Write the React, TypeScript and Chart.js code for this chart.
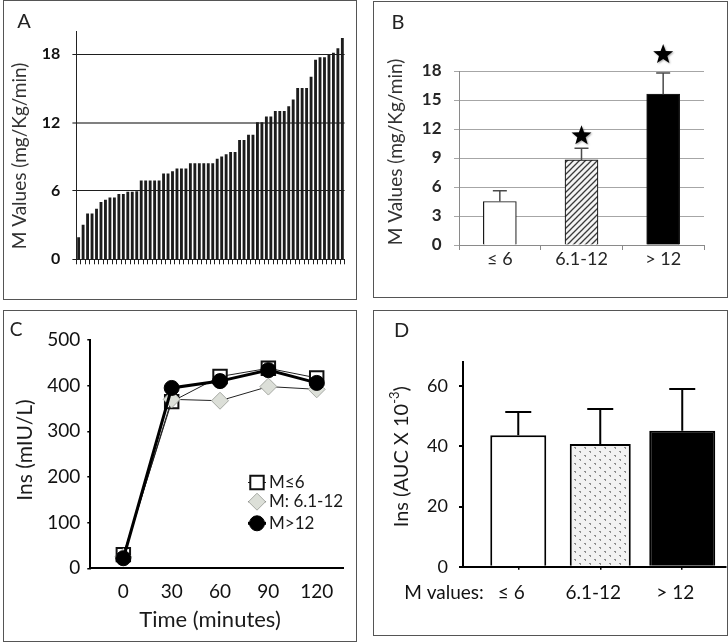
import React, { useEffect, useRef } from 'react';
import { Chart, registerables } from 'chart.js';

Chart.register(...registerables);
Chart.defaults.font.family = 'Lato';

// ---------------- Panel A data ----------------
const aValues = [
  1.9, 3.0, 4.0, 4.0, 4.4, 5.0, 5.2, 5.4, 5.4, 5.7,
  5.7, 5.9, 5.9, 5.95, 6.9, 6.9, 6.9, 6.9, 6.9, 7.5,
  7.5, 7.7, 7.95, 7.95, 7.95, 8.4, 8.4, 8.4, 8.4, 8.4,
  8.4, 8.8, 9.0, 9.2, 9.4, 9.4, 10.45, 10.45, 10.9, 10.9,
  12.0, 12.0, 12.5, 12.5, 13.0, 13.0, 13.0, 13.4, 14.0, 15.0,
  15.0, 15.0, 16.0, 17.5, 17.7, 17.7, 17.9, 18.1, 18.5, 19.4,
];
const aTicks = [0, 6, 12, 18];
const aTitle = 'M Values (mg/Kg/min)';

// ---------------- Panel B data ----------------
const bCategories = ['≤ 6', '6.1-12', '> 12'];
const bMeans = [4.5, 8.8, 15.6];
const bErrTop = [5.6, 10.0, 17.8];
const bStars = [null, 11.4, 19.8];
const bTicks = [0, 3, 6, 9, 12, 15, 18];
const bTitle = 'M Values (mg/Kg/min)';

// ---------------- Panel C data ----------------
const cTimes = [0, 30, 60, 90, 120];
const cLow = [30, 365, 420, 438, 417];
const cMid = [25, 370, 367, 398, 392];
const cHigh = [22, 395, 410, 434, 406];
const cSeries = ['M≤6', 'M: 6.1-12', 'M>12'];
const cTicksY = [0, 100, 200, 300, 400, 500];

// ---------------- Panel D data ----------------
const dCategories = ['≤ 6', '6.1-12', '> 12'];
const dMeans = [43.7, 40.8, 45.2];
const dErrTop = [51.5, 52.5, 59.1];
const dTicks = [0, 20, 40, 60];

// ---------------- helpers ----------------
const base: any = {
  animation: false,
  responsive: false,
  maintainAspectRatio: false,
  devicePixelRatio: 1,
  events: [],
};
const noPlugins = { legend: { display: false }, tooltip: { enabled: false } };

function drawText(ctx: any, t: string, x: number, y: number, font: string, color: string, rot = false, align: CanvasTextAlign = 'center') {
  ctx.save();
  ctx.font = font;
  ctx.fillStyle = color;
  ctx.textAlign = align;
  ctx.textBaseline = 'middle';
  ctx.translate(x, y);
  if (rot) ctx.rotate(-Math.PI / 2);
  ctx.fillText(t, 0, 0);
  ctx.restore();
}

function drawErr(ctx: any, x: number, yTop: number, yErr: number, color: string, lw: number, cap: number) {
  ctx.save();
  ctx.strokeStyle = color;
  ctx.lineWidth = lw;
  ctx.beginPath();
  ctx.moveTo(x, yTop);
  ctx.lineTo(x, yErr);
  ctx.moveTo(x - cap / 2, yErr);
  ctx.lineTo(x + cap / 2, yErr);
  ctx.stroke();
  ctx.restore();
}

function drawStar(ctx: any, cx: number, cy: number, R: number) {
  const r = R * 0.42;
  ctx.save();
  ctx.beginPath();
  for (let i = 0; i < 10; i++) {
    const ang = -Math.PI / 2 + (i * Math.PI) / 5;
    const rad = i % 2 === 0 ? R : r;
    ctx.lineTo(cx + rad * Math.cos(ang), cy + rad * Math.sin(ang));
  }
  ctx.closePath();
  ctx.shadowColor = 'rgba(0,0,0,0.35)';
  ctx.shadowBlur = 2;
  ctx.shadowOffsetX = 1;
  ctx.shadowOffsetY = 1;
  ctx.fillStyle = '#000';
  ctx.fill();
  ctx.restore();
}

function makeHatch() {
  const c = document.createElement('canvas');
  c.width = 6;
  c.height = 6;
  const g = c.getContext('2d') as CanvasRenderingContext2D;
  g.fillStyle = '#f4f4f4';
  g.fillRect(0, 0, 6, 6);
  g.strokeStyle = '#3a3a3a';
  g.lineWidth = 1.3;
  g.beginPath();
  g.moveTo(-1, 7); g.lineTo(7, -1);
  g.moveTo(-4, 4); g.lineTo(4, -4);
  g.moveTo(2, 10); g.lineTo(10, 2);
  g.stroke();
  return g.createPattern(c, 'repeat');
}

function makeStipple() {
  const c = document.createElement('canvas');
  c.width = 10;
  c.height = 8;
  const g = c.getContext('2d') as CanvasRenderingContext2D;
  g.fillStyle = '#f2f2f2';
  g.fillRect(0, 0, 10, 8);
  g.fillStyle = '#8c8c8c';
  g.fillRect(1, 1, 2, 1);
  g.fillRect(2, 2, 1, 1);
  g.fillRect(6, 5, 2, 1);
  g.fillRect(7, 6, 1, 1);
  return g.createPattern(c, 'repeat');
}

// ---------------- configs ----------------
function configA(): any {
  return {
    type: 'bar',
    data: {
      labels: aValues.map((_, i) => String(i + 1)),
      datasets: [{ data: aValues, backgroundColor: '#1c1c1c', barThickness: 2.2 }],
    },
    options: {
      ...base,
      layout: { padding: { left: 0, right: 12.4, top: 31.5, bottom: 30.7 } },
      plugins: noPlugins,
      scales: {
        x: {
          offset: true,
          grid: { offset: true, drawOnChartArea: false, drawTicks: true, tickLength: 5, color: '#222', lineWidth: 1 },
          border: { display: true, color: '#222', width: 1 },
          ticks: { autoSkip: false, maxRotation: 0, padding: 0, callback: () => '' },
          afterFit: (s: any) => { s.height = 10; },
        },
        y: {
          min: 0,
          max: 20,
          afterBuildTicks: (s: any) => { s.ticks = aTicks.map((v) => ({ value: v })); },
          grid: {
            color: (c: any) => (c.tick && c.tick.value === 12 ? '#808080' : '#1e1e1e'),
            lineWidth: (c: any) => (c.tick && c.tick.value === 12 ? 2 : 1),
            tickLength: 4,
          },
          border: { display: true, color: '#222', width: 1 },
          ticks: { font: { size: 16, weight: 'bold', lineHeight: 1 }, color: '#111', padding: 12 },
          afterFit: (s: any) => { s.width = 73.4; },
        },
      },
    },
    plugins: [{
      id: 'aText',
      afterDraw(chart: any) {
        const ctx = chart.ctx;
        drawText(ctx, 'A', 21, 22, '20px Lato', '#222');
        drawText(ctx, aTitle, 17, 156, '19px Lato', '#333', true);
      },
    }],
  };
}

function configB(): any {
  return {
    type: 'bar',
    data: {
      labels: bCategories,
      datasets: [
        {
          data: bMeans,
          backgroundColor: ['#ffffff', makeHatch(), '#000000'],
          borderColor: '#1a1a1a',
          borderWidth: 1.2,
          barThickness: 33,
        },
      ],
    },
    options: {
      ...base,
      layout: { padding: { left: 0, right: 24, top: 70, bottom: 23 } },
      plugins: noPlugins,
      scales: {
        x: {
          offset: true,
          grid: { offset: true, drawOnChartArea: false, drawTicks: true, tickLength: 5, color: '#8a8a8a', lineWidth: 1 },
          border: { display: true, color: '#8a8a8a', width: 1 },
          ticks: { font: { size: 18, lineHeight: 1 }, color: '#262626', padding: 0, maxRotation: 0 },
          afterFit: (s: any) => { s.height = 30; },
        },
        y: {
          min: 0,
          max: 18,
          afterBuildTicks: (s: any) => { s.ticks = bTicks.map((v) => ({ value: v })); },
          grid: { color: '#a6a6a6', lineWidth: 1, tickLength: 5 },
          border: { display: true, color: '#8a8a8a', width: 1 },
          ticks: { font: { size: 17, weight: 'bold', lineHeight: 1 }, color: '#262626', padding: 12.5 },
          afterFit: (s: any) => { s.width = 86; },
        },
      },
    },
    plugins: [{
      id: 'bExtras',
      afterDatasetsDraw(chart: any) {
        const ctx = chart.ctx;
        const meta = chart.getDatasetMeta(0);
        const ys = chart.scales.y;
        const xs = chart.scales.x;
        meta.data.forEach((el: any, i: number) => {
          drawErr(ctx, el.x, el.y, ys.getPixelForValue(bErrTop[i]), '#4a4a4a', 1.5, 14);
        });
        bStars.forEach((v, i) => {
          if (v == null) return;
          drawStar(ctx, xs.getPixelForValue(i), ys.getPixelForValue(v) + 1, 10.5);
        });
      },
      afterDraw(chart: any) {
        const ctx = chart.ctx;
        drawText(ctx, 'B', 25, 21.5, '20px Lato', '#222');
        drawText(ctx, bTitle, 23, 151, '19px Lato', '#333', true);
      },
    }],
  };
}

const cStyles = [
  { pointStyle: 'rect', pointRadius: 9.5, bg: '#ffffff', border: '#111111', pbw: 2, line: '#222222', lw: 1 },
  { pointStyle: 'rectRot', pointRadius: 8.5, bg: '#dcdfd8', border: '#a6a9a3', pbw: 1, line: '#222222', lw: 1 },
  { pointStyle: 'circle', pointRadius: 7.5, bg: '#000000', border: '#000000', pbw: 1, line: '#000000', lw: 3 },
];

function configC(): any {
  const series = [cLow, cMid, cHigh];
  return {
    type: 'line',
    data: {
      datasets: series.map((vals, k) => ({
        label: cSeries[k],
        data: cTimes.map((t, i) => ({ x: t, y: vals[i] })),
        borderColor: cStyles[k].line,
        borderWidth: cStyles[k].lw,
        pointStyle: cStyles[k].pointStyle,
        pointRadius: cStyles[k].pointRadius,
        pointBackgroundColor: cStyles[k].bg,
        pointBorderColor: cStyles[k].border,
        pointBorderWidth: cStyles[k].pbw,
        order: 3 - k,
        clip: false,
      })),
    },
    options: {
      ...base,
      layout: { padding: { left: 0, right: 13.7, top: 30, bottom: 43.7 } },
      plugins: noPlugins,
      scales: {
        x: {
          type: 'linear',
          min: -20.5,
          max: 136.5,
          afterBuildTicks: (s: any) => { s.ticks = cTimes.map((v) => ({ value: v })); },
          grid: { display: true, drawOnChartArea: false, drawTicks: false },
          border: { display: true, color: '#000', width: 2 },
          ticks: { font: { size: 19, lineHeight: 1 }, color: '#111', padding: 14 },
          afterFit: (s: any) => { s.height = 30; },
        },
        y: {
          min: 0,
          max: 500,
          afterBuildTicks: (s: any) => { s.ticks = cTicksY.map((v) => ({ value: v })); },
          grid: { drawOnChartArea: false, tickLength: 3, color: '#000', lineWidth: 1.5 },
          border: { display: true, color: '#000', width: 2 },
          ticks: { font: { size: 19, lineHeight: 1 }, color: '#111', padding: 7 },
          afterFit: (s: any) => { s.width = 87.3; },
        },
      },
    },
    plugins: [{
      id: 'cExtras',
      afterDraw(chart: any) {
        const ctx = chart.ctx;
        drawText(ctx, 'C', 13, 20, '19px Lato', '#222');
        drawText(ctx, 'Ins (mIU/L)', 22, 140, '21px Lato', '#1a1a1a', true);
        drawText(ctx, 'Time (minutes)', 207, 310, '22px Lato', '#1a1a1a');
        // legend
        const lx = 254, ly = [172.5, 191.7, 213.3];
        cStyles.forEach((st, k) => {
          const y = ly[k];
          ctx.save();
          ctx.strokeStyle = st.line;
          ctx.lineWidth = st.lw;
          ctx.beginPath();
          ctx.moveTo(lx - 9, y);
          ctx.lineTo(lx + 9, y);
          ctx.stroke();
          ctx.fillStyle = st.bg;
          ctx.strokeStyle = st.border;
          ctx.lineWidth = st.pbw;
          ctx.beginPath();
          if (st.pointStyle === 'rect') {
            const h = st.pointRadius * Math.SQRT1_2;
            ctx.rect(lx - h, y - h, 2 * h, 2 * h);
          } else if (st.pointStyle === 'rectRot') {
            const r = st.pointRadius;
            ctx.moveTo(lx, y - r); ctx.lineTo(lx + r, y); ctx.lineTo(lx, y + r); ctx.lineTo(lx - r, y); ctx.closePath();
          } else {
            ctx.arc(lx, y, st.pointRadius, 0, Math.PI * 2);
          }
          ctx.fill();
          ctx.stroke();
          ctx.restore();
          drawText(ctx, cSeries[k], 266, y, '17px Lato', '#1a1a1a', false, 'left');
        });
      },
    }],
  };
}

const dWidths = [56, 61, 66];

function configD(): any {
  const fills = ['#ffffff', makeStipple(), '#000000'];
  return {
    type: 'bar',
    data: {
      datasets: dMeans.map((v, i) => ({
        data: [{ x: i + 1, y: v }],
        backgroundColor: fills[i],
        borderColor: '#000',
        borderWidth: 2,
        grouped: false,
        categoryPercentage: 1,
        barPercentage: dWidths[i] / 82,
      })),
    },
    options: {
      ...base,
      layout: { padding: { left: 0, right: 2.3, top: 52.3, bottom: 29.3 } },
      plugins: noPlugins,
      scales: {
        x: {
          type: 'linear',
          offset: false,
          min: 0.326,
          max: 3.53,
          afterBuildTicks: (s: any) => { s.ticks = dCategories.map((_, i) => ({ value: i + 1 })); },
          grid: { offset: false, drawOnChartArea: false, tickLength: 3, color: '#000', lineWidth: 1.5 },
          border: { display: true, color: '#000', width: 2 },
          ticks: {
            font: { size: 19, lineHeight: 1 },
            color: '#111',
            padding: 14,
            labelOffset: -7,
            callback: (v: any) => dCategories[Math.round(v) - 1] ?? '',
          },
          afterFit: (s: any) => { s.height = 40; },
        },
        y: {
          min: 0,
          max: 68,
          afterBuildTicks: (s: any) => { s.ticks = dTicks.map((v) => ({ value: v })); },
          grid: { drawOnChartArea: false, tickLength: 4, color: '#000', lineWidth: 2 },
          border: { display: true, color: '#000', width: 2 },
          ticks: { font: { size: 18, lineHeight: 1 }, color: '#111', padding: 11 },
          afterFit: (s: any) => { s.width = 90; },
        },
      },
    },
    plugins: [{
      id: 'dExtras',
      afterDatasetsDraw(chart: any) {
        const ctx = chart.ctx;
        const ys = chart.scales.y;
        dMeans.forEach((_, i) => {
          const el = chart.getDatasetMeta(i).data[0];
          drawErr(ctx, el.x, el.y, ys.getPixelForValue(dErrTop[i]), '#000', 2, 26);
        });
      },
      afterDraw(chart: any) {
        const ctx = chart.ctx;
        drawText(ctx, 'D', 28.5, 21, '20px Lato', '#222');
        drawText(ctx, 'M values:', 71, 283.3, '19px Lato', '#111');
        // rotated title with superscript
        ctx.save();
        ctx.translate(29, 146.7);
        ctx.rotate(-Math.PI / 2);
        ctx.fillStyle = '#1a1a1a';
        ctx.textBaseline = 'middle';
        ctx.textAlign = 'left';
        const main = 'Ins (AUC X 10';
        const sup = '-3';
        const tail = ')';
        ctx.font = '20px Lato';
        const w1 = ctx.measureText(main).width;
        const w3 = ctx.measureText(tail).width;
        ctx.font = '13px Lato';
        const w2 = ctx.measureText(sup).width;
        let x0 = -(w1 + w2 + w3) / 2;
        ctx.font = '20px Lato';
        ctx.fillText(main, x0, 0);
        x0 += w1;
        ctx.font = '13px Lato';
        ctx.fillText(sup, x0, -7);
        x0 += w2;
        ctx.font = '20px Lato';
        ctx.fillText(tail, x0, 0);
        ctx.restore();
      },
    }],
  };
}

function Panel({ left, top, width, height, make }: any) {
  const ref = useRef<HTMLCanvasElement>(null);
  useEffect(() => {
    const chart = new Chart(ref.current as HTMLCanvasElement, make());
    return () => chart.destroy();
  }, []);
  return (
    <>
      <canvas ref={ref} width={width} height={height} style={{ position: 'absolute', left, top, width, height }} />
      <div
        style={{
          position: 'absolute', left, top, width, height, boxSizing: 'border-box',
          border: '1px solid #555', pointerEvents: 'none',
        }}
      />
    </>
  );
}

export default function App() {
  return (
    <div style={{ position: 'absolute', left: 0, top: 0, width: 728, height: 642, background: '#fff', overflow: 'hidden' }}>
      <Panel left={3} top={0} width={354} height={300} make={configA} />
      <Panel left={373} top={1} width={355} height={297} make={configB} />
      <Panel left={3} top={310} width={354} height={332} make={configC} />
      <Panel left={373} top={310} width={355} height={326} make={configD} />
    </div>
  );
}
